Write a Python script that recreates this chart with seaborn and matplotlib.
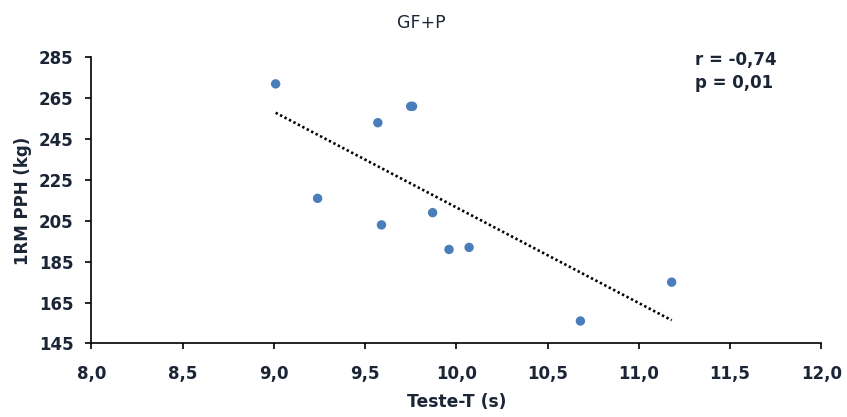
import matplotlib
matplotlib.use("Agg")
import matplotlib.pyplot as plt
import seaborn as sns
import pandas as pd

# Shuttle test time (s) and 1RM leg press (kg), group GF+P
teste_t = [9.01, 9.24, 9.57, 9.59, 9.75, 9.76, 9.87, 9.96, 10.07, 10.68, 11.18]
rm_pph = [272, 216, 253, 203, 261, 261, 209, 191, 192, 156, 175]

x_ticks = [8.0, 8.5, 9.0, 9.5, 10.0, 10.5, 11.0, 11.5, 12.0]
y_ticks = [145, 165, 185, 205, 225, 245, 265, 285]

title = "GF+P"
stats_text = "r = -0,74\np = 0,01"

df = pd.DataFrame({"x": teste_t, "y": rm_pph})

sns.set_theme(style="white")
plt.rcParams["font.family"] = ["DejaVu Sans"]
text_color = "#1b2536"

fig = plt.figure(figsize=(8.47, 4.17), dpi=100)
ax = fig.add_axes([0.1078, 0.1763, 0.8619, 0.6863])

sns.regplot(
    data=df, x="x", y="y", ax=ax, ci=None, truncate=True,
    scatter_kws=dict(s=46, color="#4a7ebb", edgecolor="none", alpha=1, zorder=3),
    line_kws=dict(color="black", lw=1.9, linestyle=(0, (0.9, 1.0)), zorder=2),
)

ax.set_xlim(8.0, 12.0)
ax.set_ylim(145, 285)
ax.set_xticks(x_ticks)
ax.set_yticks(y_ticks)
ax.set_xticklabels([f"{v:.1f}".replace(".", ",") for v in x_ticks])
ax.set_yticklabels([str(v) for v in y_ticks])

for side in ("top", "right"):
    ax.spines[side].set_visible(False)
for side in ("left", "bottom"):
    ax.spines[side].set_color("black")
    ax.spines[side].set_linewidth(1.2)

ax.tick_params(axis="both", bottom=True, left=True, direction="out", length=4.3,
               width=1.2, color="black", labelsize=12, labelcolor=text_color)
ax.tick_params(axis="x", pad=11.5)
ax.tick_params(axis="y", pad=8.5)
for lbl in ax.get_xticklabels() + ax.get_yticklabels():
    lbl.set_fontweight("bold")

ax.set_xlabel("Teste-T (s)", fontsize=12.3, fontweight="bold", color=text_color, labelpad=7)
ax.set_ylabel("1RM PPH (kg)", fontsize=12, fontweight="bold", color=text_color, labelpad=5)

fig.text(0.498, 0.945, title, ha="center", va="center", fontsize=12.5,
         fontweight="medium", color=text_color)
fig.text(0.820, 0.8765, stats_text, ha="left", va="top", fontsize=12,
         fontweight="bold", color=text_color, linespacing=1.35)

fig.savefig("out.png", dpi=100, facecolor="white")
